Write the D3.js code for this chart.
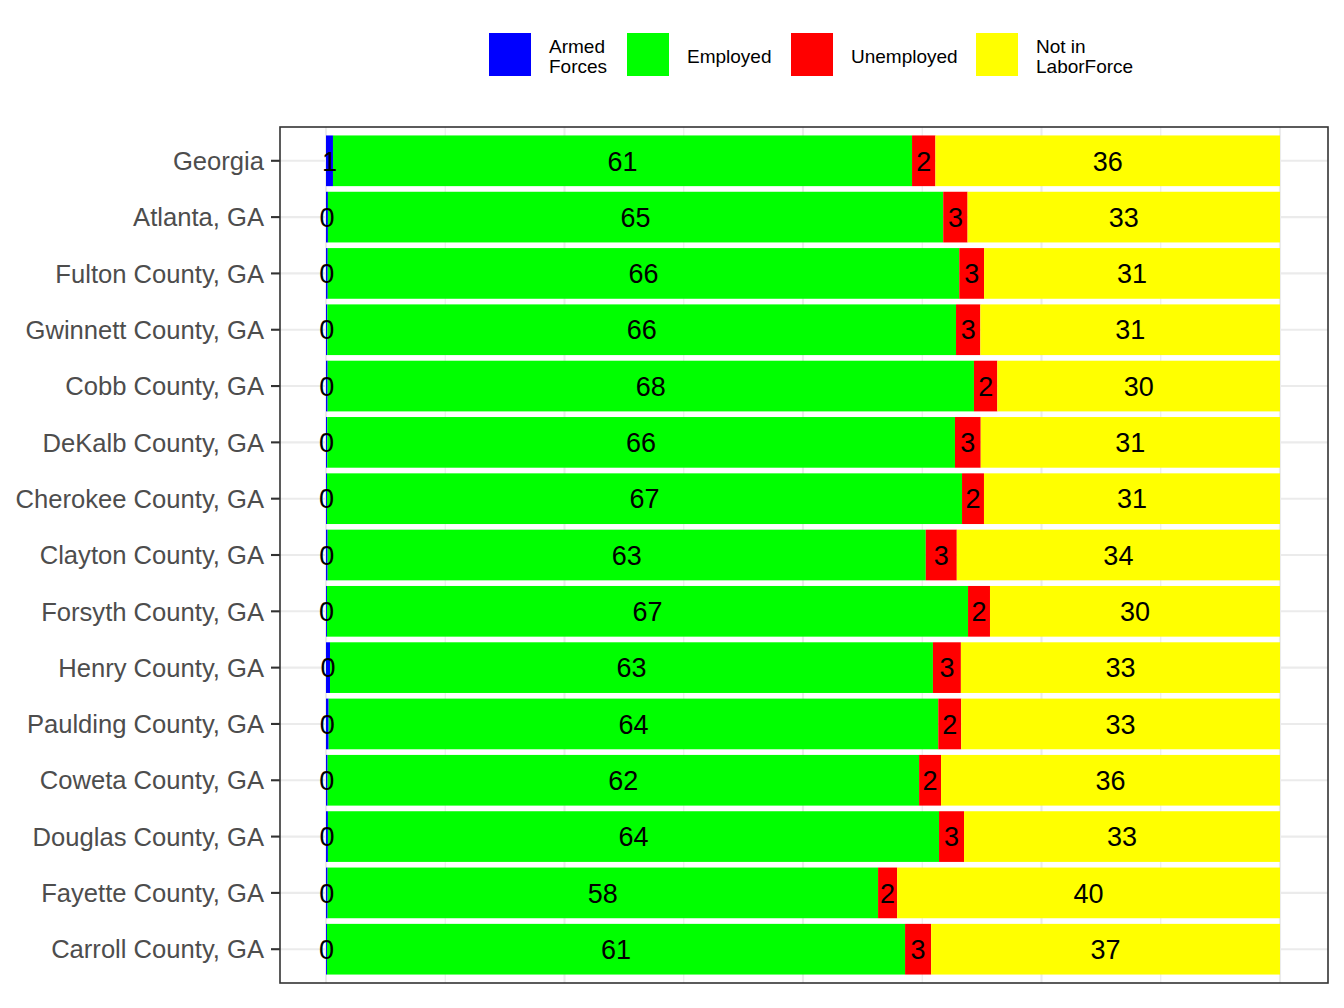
<!DOCTYPE html>
<html>
<head>
<meta charset="utf-8">
<script src="https://cdn.jsdelivr.net/npm/d3@7"></script>
<style>
  html, body { margin: 0; padding: 0; background: #fff; }
  svg { display: block; font-family: "Liberation Sans", Arial, sans-serif; }
</style>
</head>
<body>
<svg id="chart" width="1344" height="1008"></svg>
<script>
const categories = [
  "Georgia", "Atlanta, GA", "Fulton County, GA", "Gwinnett County, GA", "Cobb County, GA",
  "DeKalb County, GA", "Cherokee County, GA", "Clayton County, GA", "Forsyth County, GA",
  "Henry County, GA", "Paulding County, GA", "Coweta County, GA", "Douglas County, GA",
  "Fayette County, GA", "Carroll County, GA"
];
const armedForces     = [0.73, 0.20, 0.18, 0.14, 0.17, 0.13, 0.10, 0.17, 0.10, 0.42, 0.28, 0.17, 0.20, 0.17, 0.10];
const employed        = [60.70, 64.50, 66.20, 65.90, 67.75, 65.80, 66.57, 62.70, 67.20, 63.20, 63.90, 62.00, 64.06, 57.70, 60.60];
const unemployed      = [2.45, 2.55, 2.60, 2.55, 2.45, 2.70, 2.30, 3.25, 2.30, 2.93, 2.40, 2.30, 2.62, 2.00, 2.73];
const notInLaborForce = [36.12, 32.75, 31.02, 31.41, 29.63, 31.37, 31.03, 33.88, 30.40, 33.45, 33.42, 35.53, 33.12, 40.13, 36.57];

const seriesKeys   = ["armed", "employed", "unemployed", "nilf"];
const seriesLabels = [["Armed", "Forces"], ["Employed"], ["Unemployed"], ["Not in", "LaborForce"]];
const seriesColors = ["#0000FF", "#00FF00", "#FF0000", "#FFFF00"];

const rows = categories.map((c, i) => ({
  category: c,
  armed: armedForces[i],
  employed: employed[i],
  unemployed: unemployed[i],
  nilf: notInLaborForce[i]
}));

const svg = d3.select("#chart");
const panel = { left: 280, right: 1328, top: 127, bottom: 983 };

const x = d3.scaleLinear().domain([0, 100]).range([326, 1280]);
const y = d3.scaleBand().domain(categories).range([panel.top, panel.bottom])
  .paddingInner(0.1).paddingOuter(0.15);
const color = d3.scaleOrdinal().domain(seriesKeys).range(seriesColors);

// panel background
svg.append("rect")
  .attr("x", panel.left).attr("y", panel.top)
  .attr("width", panel.right - panel.left).attr("height", panel.bottom - panel.top)
  .attr("fill", "#fff");

// grid lines
const gridG = svg.append("g");
const majorX = [0, 25, 50, 75, 100];
const minorX = [12.5, 37.5, 62.5, 87.5];
gridG.selectAll(".minx").data(minorX).join("line")
  .attr("x1", d => x(d)).attr("x2", d => x(d))
  .attr("y1", panel.top).attr("y2", panel.bottom)
  .attr("stroke", "#EBEBEB").attr("stroke-width", 1.1);
gridG.selectAll(".majx").data(majorX).join("line")
  .attr("x1", d => x(d)).attr("x2", d => x(d))
  .attr("y1", panel.top).attr("y2", panel.bottom)
  .attr("stroke", "#EBEBEB").attr("stroke-width", 2.1);
gridG.selectAll(".majy").data(categories).join("line")
  .attr("x1", panel.left).attr("x2", panel.right)
  .attr("y1", d => y(d) + y.bandwidth() / 2).attr("y2", d => y(d) + y.bandwidth() / 2)
  .attr("stroke", "#EBEBEB").attr("stroke-width", 2.1);

// stacked bars
const stacked = d3.stack().keys(seriesKeys)(rows);
const layers = svg.append("g").selectAll("g").data(stacked).join("g")
  .attr("fill", d => color(d.key));
layers.selectAll("rect").data(d => d).join("rect")
  .attr("x", d => x(d[0]))
  .attr("width", d => x(d[1]) - x(d[0]))
  .attr("y", d => y(d.data.category))
  .attr("height", y.bandwidth());

// value labels
const labelG = svg.append("g");
stacked.forEach(layer => {
  labelG.selectAll(null).data(layer).join("text")
    .attr("x", d => x((d[0] + d[1]) / 2))
    .attr("y", d => y(d.data.category) + y.bandwidth() / 2)
    .attr("dy", "0.36em")
    .attr("text-anchor", "middle")
    .attr("font-size", 27)
    .attr("fill", "#000")
    .text(d => Math.round(d[1] - d[0]));
});

// panel border
svg.append("rect")
  .attr("x", panel.left).attr("y", panel.top)
  .attr("width", panel.right - panel.left).attr("height", panel.bottom - panel.top)
  .attr("fill", "none").attr("stroke", "#333333").attr("stroke-width", 1.6);

// y axis
const yAxis = d3.axisLeft(y).tickSize(9).tickPadding(7);
const yg = svg.append("g").attr("transform", `translate(${panel.left},0)`).call(yAxis);
yg.select(".domain").remove();
yg.selectAll(".tick line").attr("stroke", "#333333").attr("stroke-width", 2.1);
yg.selectAll(".tick text")
  .attr("font-size", 25.6)
  .attr("font-family", "Liberation Sans, Arial, sans-serif")
  .attr("fill", "#4D4D4D")
  .attr("dy", "0.36em");

// legend
const legendKeyX = [489, 627, 791, 976];
const legend = svg.append("g");
seriesKeys.forEach((k, i) => {
  const g = legend.append("g").attr("transform", `translate(${legendKeyX[i]},33)`);
  g.append("rect").attr("width", 42).attr("height", 43).attr("fill", seriesColors[i]);
  const lines = seriesLabels[i];
  const t = g.append("text")
    .attr("x", 60)
    .attr("font-size", 19)
    .attr("fill", "#000");
  const lineH = 20;
  const y0 = 23.5 - (lines.length - 1) * lineH / 2;
  lines.forEach((ln, j) => {
    t.append("tspan").attr("x", 60).attr("y", y0 + j * lineH).attr("dy", "0.36em").text(ln);
  });
});
</script>
</body>
</html>
